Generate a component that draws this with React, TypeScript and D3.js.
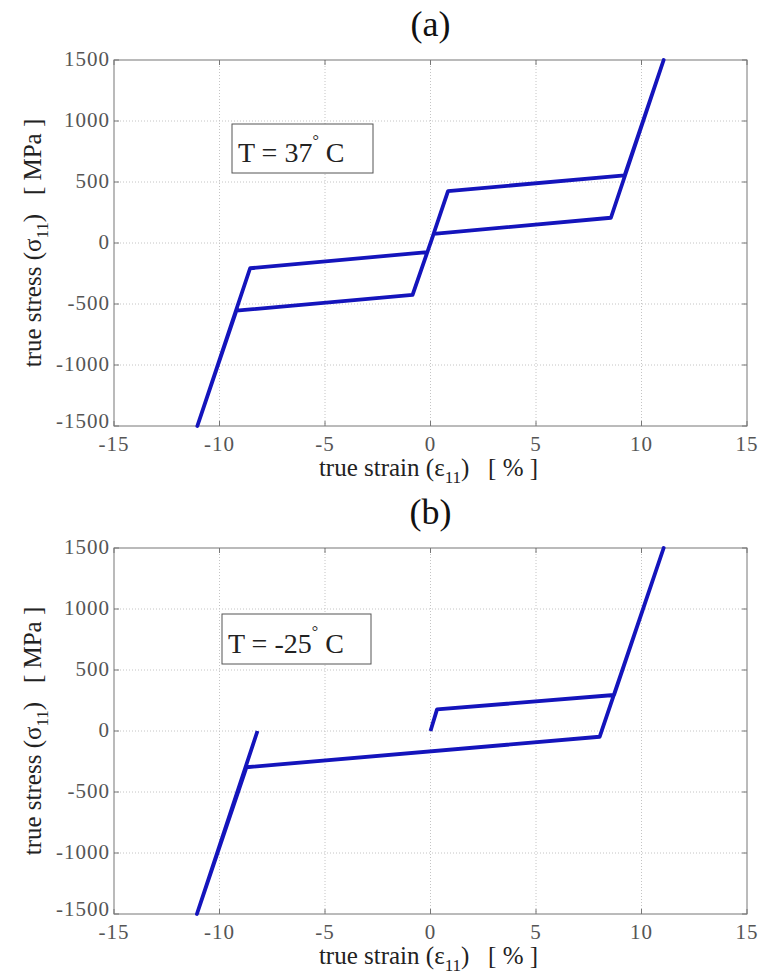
import * as d3 from "d3";

// tick values shared by both panels
const xTicks = [-15, -10, -5, 0, 5, 10, 15];
const yTicks = [-1500, -1000, -500, 0, 500, 1000, 1500];

// panel (a): T = 37 C, full pseudoelastic loop
const strainA = [0, 0.83, 9.2, 11.05, 8.55, 0.15, -0.85, -9.2, -11.05, -8.55, -0.15, 0];
const stressA = [0, 425, 555, 1500, 207, 75, -425, -555, -1500, -207, -75, 0];

// panel (b): T = -25 C
const strainB = [0, 0.31, 8.7, 11.05, 8.02, -8.72, -11.07, -8.2];
const stressB = [0, 177, 295, 1500, -47, -297, -1500, 0];

const W = 760;
const H = 976;
const serif = { fontFamily: '"Liberation Serif", "Times New Roman", serif' };

type PanelProps = {
  top: number;
  title: string;
  temp: string;
  strain: number[];
  stress: number[];
  box: { x: number; y: number; w: number; h: number };
};

const Panel = ({ top, title, temp, strain, stress, box }: PanelProps) => {
  const left = 114;
  const right = 747;
  const bottom = top + 366;

  const x = d3.scaleLinear().domain([-15, 15]).range([left, right]);
  const y = d3.scaleLinear().domain([-1500, 1500]).range([bottom, top]);

  const pts = strain.map((s, i) => [s, stress[i]] as [number, number]);
  const line = d3
    .line<[number, number]>()
    .x((d) => x(d[0]))
    .y((d) => y(d[1]));

  const tickLen = 5;

  return (
    <g style={serif}>
      {/* title */}
      <text x={x(0)} y={top - 24} textAnchor="middle" fontSize={36} fill="#111">
        {title}
      </text>

      {/* grid */}
      {xTicks.slice(1, -1).map((t) => (
        <line
          key={"gx" + t}
          x1={x(t)}
          x2={x(t)}
          y1={top}
          y2={bottom}
          stroke="#c4c4c4"
          strokeDasharray="1 2"
        />
      ))}
      {yTicks.slice(1, -1).map((t) => (
        <line
          key={"gy" + t}
          x1={left}
          x2={right}
          y1={y(t)}
          y2={y(t)}
          stroke="#c4c4c4"
          strokeDasharray="1 2"
        />
      ))}

      {/* inside tick marks on all four sides */}
      {xTicks.map((t) => (
        <g key={"tx" + t} stroke="#777">
          <line x1={x(t)} x2={x(t)} y1={bottom} y2={bottom - tickLen} />
          <line x1={x(t)} x2={x(t)} y1={top} y2={top + tickLen} />
        </g>
      ))}
      {yTicks.map((t) => (
        <g key={"ty" + t} stroke="#777">
          <line x1={left} x2={left + tickLen} y1={y(t)} y2={y(t)} />
          <line x1={right} x2={right - tickLen} y1={y(t)} y2={y(t)} />
        </g>
      ))}

      {/* frame */}
      <rect
        x={left}
        y={top}
        width={right - left}
        height={bottom - top}
        fill="none"
        stroke="#777"
      />

      {/* tick labels */}
      {xTicks.map((t) => (
        <text
          key={"lx" + t}
          x={x(t)}
          y={bottom + 25}
          textAnchor="middle"
          fontSize={21}
          letterSpacing={1}
          fill="#555"
        >
          {t}
        </text>
      ))}
      {yTicks.map((t) => (
        <text
          key={"ly" + t}
          x={left - 4}
          y={y(t)}
          dy={t === -1500 ? "0.1em" : "0.3em"}
          textAnchor="end"
          fontSize={21}
          letterSpacing={1}
          fill="#555"
        >
          {t}
        </text>
      ))}

      {/* axis labels */}
      <text
        x={x(0) - 2}
        y={bottom + 50}
        textAnchor="middle"
        fontSize={25}
        fill="#222"
      >
        true strain (ε
        <tspan fontSize={17} dy={7}>
          11
        </tspan>
        <tspan dy={-7}>){"\u00A0\u00A0\u00A0"}[ % ]</tspan>
      </text>
      <text
        transform={`translate(41,${(top + bottom) / 2}) rotate(-90)`}
        textAnchor="middle"
        fontSize={25}
        fill="#222"
      >
        true stress (σ
        <tspan fontSize={17} dy={7}>
          11
        </tspan>
        <tspan dy={-7}>){"\u00A0\u00A0\u00A0"}[ MPa ]</tspan>
      </text>

      {/* curve */}
      <path
        d={line(pts) ?? ""}
        fill="none"
        stroke="#1414bc"
        strokeWidth={3.8}
        strokeLinejoin="round"
      />

      {/* temperature box */}
      <rect
        x={box.x}
        y={box.y}
        width={box.w}
        height={box.h}
        fill="#fff"
        stroke="#555"
      />
      <text
        x={box.x + 6}
        y={box.y + box.h - 11}
        fontSize={28}
        fill="#222"
      >
        {temp}
        <tspan fontSize={16} dy={-16}>
          °
        </tspan>
        <tspan dy={16}>{"\u00A0"}C</tspan>
      </text>
    </g>
  );
};

export default function App() {
  return (
    <svg
      width={W}
      height={H}
      style={{ position: "absolute", left: 0, top: 0, background: "#fff" }}
    >
      <Panel
        top={60}
        title="(a)"
        temp="T = 37"
        strain={strainA}
        stress={stressA}
        box={{ x: 232, y: 124, w: 141, h: 49 }}
      />
      <Panel
        top={548}
        title="(b)"
        temp="T = -25"
        strain={strainB}
        stress={stressB}
        box={{ x: 222, y: 614, w: 149, h: 50 }}
      />
    </svg>
  );
}
